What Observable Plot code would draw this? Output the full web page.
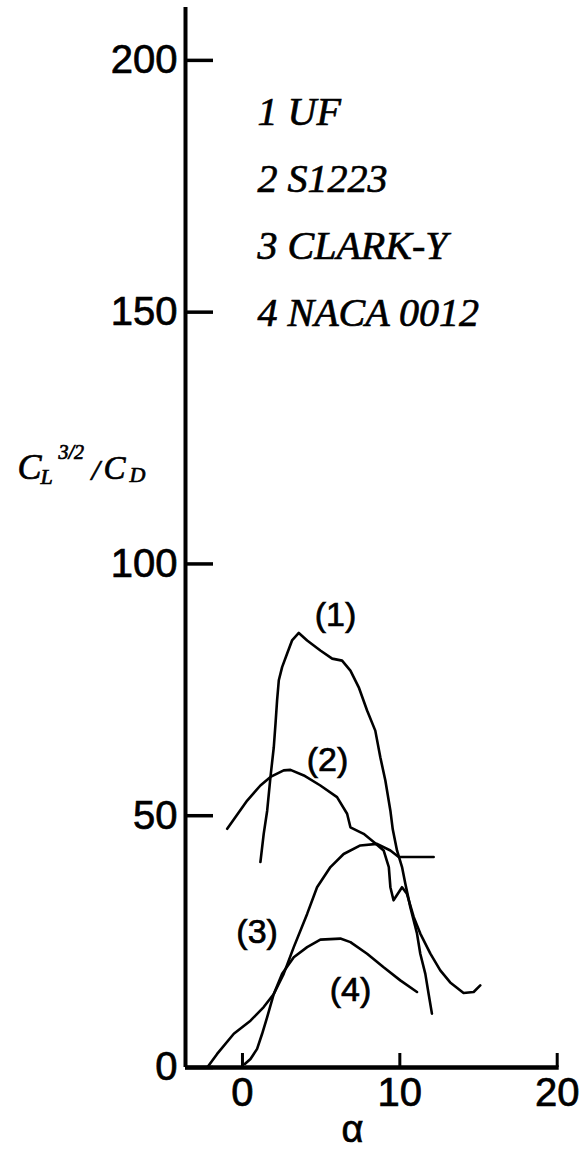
<!DOCTYPE html>
<html><head><meta charset="utf-8">
<script src="https://cdn.jsdelivr.net/npm/d3@7"></script>
<script src="https://cdn.jsdelivr.net/npm/@observablehq/plot@0.6"></script>
<style>html,body{margin:0;padding:0;background:#fff}svg{display:block}svg text{stroke:black;stroke-width:0.7px}</style>
</head><body><div id="chart"></div>
<script>
// ---- data ----
const seriesNames = ["1 UF", "2 S1223", "3 CLARK-Y", "4 NACA 0012"];
const curveLabels = ["(1)", "(2)", "(3)", "(4)"];
const curveLabelAlpha = [5.91, 5.4, 0.93, 6.87];
const curveLabelValue = [89.8, 61, 26.9, 15.3];
const xTicks = [0, 10, 20];
const yTicks = [0, 50, 100, 150, 200];

const ufAlpha = [1.14, 1.35, 1.57, 1.78, 1.99, 2.1, 2.2, 2.31, 2.52, 2.84, 3.15, 3.58, 4.11, 4.95, 5.7, 6.33, 6.86, 7.39, 7.92, 8.44, 8.76, 9.08, 9.4, 9.55, 9.82, 10.14, 10.35, 10.67, 11.09, 11.3, 11.62, 11.83, 12.04];
const ufValue = [40.8, 46.4, 51, 57.7, 63.6, 68.3, 72.9, 76.9, 79.5, 82.2, 84.8, 86.3, 84.8, 82.8, 81.2, 80.8, 78.8, 75.5, 70.9, 66.9, 61.6, 57, 51, 47.3, 43.1, 39.8, 36.5, 31.8, 26.6, 22.6, 18.6, 14.6, 10.7];

const s1223Alpha = [-0.97, 0.3, 1.14, 1.78, 2.62, 3.05, 3.9, 4.95, 6.01, 6.65, 6.86, 7.7, 8.34, 8.97, 9.3, 9.4, 9.6, 10.14, 10.45, 10.88, 11.3, 11.94, 12.57, 13.2, 14.05, 14.69, 15.11];
const s1223Value = [47.4, 53, 56, 57.7, 59, 59.1, 58, 56, 53.7, 50.4, 47.7, 46.4, 44.8, 43.1, 39.8, 35.8, 33.2, 35.8, 34.5, 29.9, 26.6, 22.6, 19.3, 16.9, 14.8, 15, 16.3];

const clarkAlpha = [-2.24, -1.61, -0.55, 0.51, 1.35, 1.99, 2.62, 3.26, 4.11, 4.74, 5.59, 6.43, 7.49, 8.55, 9.4, 9.93, 12.15];
const clarkValue = [0, 2.7, 6.7, 9.3, 12, 14.6, 18.6, 23.9, 30.5, 35.8, 39.8, 42.4, 44.1, 44.4, 43.1, 41.8, 41.8];

const nacaAlpha = [0.15, 0.51, 0.93, 1.25, 1.57, 1.99, 2.52, 3.26, 4.11, 4.95, 6.22, 6.86, 7.92, 8.97, 10.03, 11.09];
const nacaValue = [0.7, 1.7, 3.7, 6.7, 10, 14.6, 18.6, 21.9, 23.9, 25.4, 25.6, 24.9, 22.6, 19.9, 17.3, 15];

const xLabel = "α";
const yLabelParts = ["C", "L", "3/2", "/", "C", "D"];

// ---- build ----
const curves = [[ufAlpha, ufValue], [s1223Alpha, s1223Value], [clarkAlpha, clarkValue], [nacaAlpha, nacaValue]];
const rows = curves.flatMap(([a, v], k) => a.map((x, i) => ({series: seriesNames[k], alpha: x, value: v[i]})));

const W = 582, H = 1152, mL = 185, mR = 25.3, mT = 7, mB = 85;
const xDomain = [-3.62, 20], yDomain = [0, 210.5];
const ux = (xDomain[1] - xDomain[0]) / (W - mL - mR);
const uy = (yDomain[1] - yDomain[0]) / (H - mT - mB);
const fx = px => xDomain[0] + (px - mL) * ux;
const fy = py => yDomain[1] - (py - mT) * uy;

const sans = "'Liberation Sans', Arial, Helvetica, sans-serif";
const serif = "'Liberation Serif', 'Times New Roman', serif";
const yLabelText = yLabelParts.join("");

const chart = Plot.plot({
  width: W, height: H,
  marginLeft: mL, marginRight: mR, marginTop: mT, marginBottom: mB,
  x: {domain: xDomain, axis: null},
  y: {domain: yDomain, axis: null},
  style: {background: "white", color: "black"},
  marks: [
    Plot.axisY({ticks: yTicks, tickSize: 0, tickPadding: 8, fontSize: 40, fontFamily: sans, label: null, fill: "black"}),
    Plot.axisX({ticks: xTicks, tickSize: 0, tickPadding: 10, fontSize: 40, fontFamily: sans, label: null, fill: "black"}),
    Plot.ruleX([xDomain[0]], {y1: 0, y2: yDomain[1], stroke: "black", strokeWidth: 4}),
    Plot.ruleY([0], {x1: xDomain[0], x2: 20 + 2 * ux, stroke: "black", strokeWidth: 4.5}),
    Plot.ruleY(yTicks, {x1: xDomain[0], x2: xDomain[0] + 28 * ux, stroke: "black", strokeWidth: 3.5}),
    Plot.ruleX(xTicks, {y1: 0, y2: 14 * uy, stroke: "black", strokeWidth: 3}),
    Plot.line(rows, {x: "alpha", y: "value", z: "series", stroke: "black", strokeWidth: 2.6, strokeLinejoin: "round"}),
    Plot.text(seriesNames, {x: fx(257), y: (d, i) => fy(112 + i * 67), text: d => d, textAnchor: "start", lineAnchor: "middle",
      fontSize: 40, fontFamily: serif, fontStyle: "italic", fill: "black"}),
    Plot.text(curveLabels, {x: (d, i) => curveLabelAlpha[i], y: (d, i) => curveLabelValue[i], text: d => d,
      textAnchor: "middle", lineAnchor: "middle", fontSize: 34, fontFamily: sans, fill: "black"}),
    Plot.text([xLabel], {x: fx(352), frameAnchor: "bottom", dy: 62, text: d => d, textAnchor: "middle", lineAnchor: "middle",
      fontSize: 38, fontFamily: sans, fill: "black"}),
    Plot.text([yLabelText], {frameAnchor: "top-left", text: d => d, fontSize: 34, fontFamily: serif, fill: "black"})
  ]
});

// rebuild the y label with sub/superscripts
const labNode = Array.from(chart.querySelectorAll("text")).find(t => t.textContent === yLabelText);
if (labNode) {
  const lab = d3.select(labNode);
  lab.text(null).attr("transform", null).attr("x", null).attr("y", null).attr("dy", null)
    .attr("font-style", "italic").attr("font-family", serif).attr("fill", "black").attr("text-anchor", "start");
  const pos = [
    {x: 17, y: 478, s: 36},
    {x: 40, y: 483, s: 22},
    {x: 58, y: 458, s: 20},
    {x: 91, y: 479, s: 30},
    {x: 103, y: 478, s: 33},
    {x: 129, y: 481, s: 22}
  ];
  yLabelParts.forEach((t, i) => lab.append("tspan").attr("x", pos[i].x).attr("y", pos[i].y).attr("font-size", pos[i].s).text(t));
}

document.getElementById("chart").append(chart);
</script>
</body></html>
